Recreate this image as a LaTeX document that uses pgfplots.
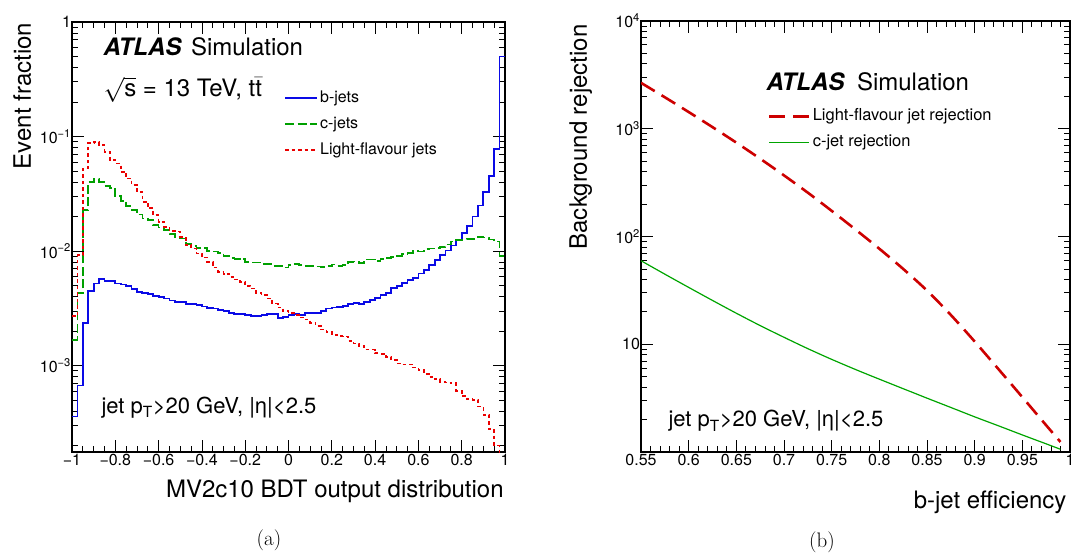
\documentclass[border=0pt]{standalone}
\usepackage{fontspec}
\usepackage{pgfplots}
\pgfplotsset{compat=1.18}
\usepackage{pgfplotstable}
\newfontfamily\hv{TeX Gyre Heros}
\definecolor{hblue}{RGB}{10,10,230}
\definecolor{hgreen}{RGB}{0,160,0}
\definecolor{hred}{RGB}{235,0,0}
\definecolor{rred}{RGB}{205,0,0}
\definecolor{rgreen}{RGB}{0,165,0}

\pgfplotstableread{
x b c l
-1.000 3.6e-4 1.67e-3 2.7e-3
-0.975 6.7e-4 4.3e-3 9.2e-3
-0.950 2.35e-3 2.28e-2 5.27e-2
-0.925 4.5e-3 4.03e-2 8.83e-2
-0.900 5.2e-3 4.23e-2 9.01e-2
-0.875 5.66e-3 4.03e-2 8.43e-2
-0.850 5.5e-3 3.70e-2 7.37e-2
-0.825 5.5e-3 3.57e-2 6.23e-2
-0.800 5.2e-3 3.02e-2 5.83e-2
-0.775 5.1e-3 2.75e-2 4.93e-2
-0.750 4.98e-3 2.47e-2 4.31e-2
-0.725 4.66e-3 2.28e-2 3.77e-2
-0.700 4.41e-3 2.09e-2 3.29e-2
-0.675 4.32e-3 1.93e-2 2.70e-2
-0.650 4.21e-3 1.87e-2 2.36e-2
-0.625 4.07e-3 1.69e-2 2.06e-2
-0.600 3.99e-3 1.61e-2 1.80e-2
-0.575 3.86e-3 1.52e-2 1.63e-2
-0.550 3.7e-3 1.41e-2 1.50e-2
-0.525 3.61e-3 1.33e-2 1.48e-2
-0.500 3.6e-3 1.29e-2 1.33e-2
-0.475 3.44e-3 1.15e-2 1.13e-2
-0.450 3.44e-3 1.11e-2 1.05e-2
-0.425 3.38e-3 1.06e-2 9.5e-3
-0.400 3.28e-3 1.07e-2 8.8e-3
-0.375 3.18e-3 1.0e-2 8.0e-3
-0.350 3.15e-3 9.9e-3 7.2e-3
-0.325 3.05e-3 9.66e-3 6.6e-3
-0.300 2.99e-3 9.04e-3 6.3e-3
-0.275 2.9e-3 8.74e-3 5.97e-3
-0.250 2.82e-3 8.57e-3 5.66e-3
-0.225 2.8e-3 8.57e-3 5.4e-3
-0.200 2.76e-3 8.07e-3 4.94e-3
-0.175 2.72e-3 7.96e-3 4.72e-3
-0.150 2.71e-3 7.96e-3 4.33e-3
-0.125 2.76e-3 7.69e-3 4.13e-3
-0.100 2.80e-3 7.69e-3 3.86e-3
-0.075 2.83e-3 7.44e-3 3.49e-3
-0.050 2.62e-3 7.44e-3 3.22e-3
-0.025 2.67e-3 7.2e-3 3.01e-3
0.000 2.76e-3 7.55e-3 2.86e-3
0.025 2.8e-3 7.69e-3 2.76e-3
0.050 2.76e-3 7.55e-3 2.63e-3
0.075 2.86e-3 7.44e-3 2.53e-3
0.100 2.89e-3 7.44e-3 2.37e-3
0.125 2.89e-3 7.35e-3 2.21e-3
0.150 2.99e-3 7.29e-3 2.07e-3
0.175 3.15e-3 7.44e-3 1.97e-3
0.200 3.22e-3 7.65e-3 1.85e-3
0.225 3.27e-3 7.44e-3 1.81e-3
0.250 3.30e-3 7.55e-3 1.80e-3
0.275 3.47e-3 8.07e-3 1.65e-3
0.300 3.50e-3 8.1e-3 1.56e-3
0.325 3.44e-3 7.9e-3 1.49e-3
0.350 3.61e-3 8.46e-3 1.38e-3
0.375 3.73e-3 8.46e-3 1.38e-3
0.400 3.91e-3 8.18e-3 1.28e-3
0.425 4.13e-3 8.5e-3 1.27e-3
0.450 4.33e-3 8.74e-3 1.19e-3
0.475 4.72e-3 8.93e-3 1.12e-3
0.500 4.94e-3 9.1e-3 1.04e-3
0.525 5.29e-3 9.41e-3 1.02e-3
0.550 5.58e-3 9.66e-3 1.02e-3
0.575 5.85e-3 1.0e-2 9.6e-4
0.600 6.38e-3 9.9e-3 9.1e-4
0.625 6.82e-3 1.035e-2 8.5e-4
0.650 7.55e-3 1.055e-2 8.0e-4
0.675 8.34e-3 1.07e-2 7.6e-4
0.700 9.23e-3 1.09e-2 7.2e-4
0.725 1.01e-2 1.14e-2 7.1e-4
0.750 1.12e-2 1.21e-2 7.0e-4
0.775 1.26e-2 1.25e-2 6.0e-4
0.800 1.43e-2 1.26e-2 5.4e-4
0.825 1.66e-2 1.28e-2 5.1e-4
0.850 2.0e-2 1.28e-2 5.0e-4
0.875 2.5e-2 1.33e-2 4.4e-4
0.900 3.3e-2 1.31e-2 3.7e-4
0.925 4.5e-2 1.26e-2 2.8e-4
0.950 7.8e-2 1.21e-2 2.0e-4
0.975 0.5 9.04e-3 1.5e-4
1.000 0.5 9.04e-3 1.5e-4
}\histtab

\pgfplotstableread{
x l c
0.55 2667 59.6
0.575 1959 44.7
0.60 1429 33.7
0.625 1035 25.5
0.65 743 19.4
0.675 527 14.9
0.70 369 11.6
0.725 255 9.10
0.75 173 7.24
0.775 116 5.83
0.80 77 4.74
0.825 50 3.87
0.85 31.5 3.16
0.875 18.7 2.59
0.90 10.6 2.12
0.925 5.87 1.75
0.95 3.23 1.44
0.975 1.77 1.19
0.99 1.24 1.06
}\rejtab

\pgfplotsset{
  atlasax/.style={
    scale only axis,
    anchor=south west,
    tick align=inside,
    major tick length=12pt,
    minor tick length=6pt,
    every tick/.style={black, line width=0.8pt},
    axis line style={line width=1.1pt},
    tick label style={font=\hv\fontsize{16}{18}\selectfont},
    xticklabel style={yshift=1.5pt},
    yticklabel style={xshift=2.5pt},
    label style={font=\hv\fontsize{24}{26}\selectfont},
    legend cell align=left,
  },
}

\begin{document}
\begin{tikzpicture}
\useasboundingbox (0pt,0pt) rectangle (1071pt,556pt);

% ---------------- (a) ----------------
\begin{axis}[ymode=log, atlasax,
  at={(72pt,104pt)}, width=433pt, height=430pt,
  xmin=-1, xmax=1, ymin=1.76e-4, ymax=1,
  xtick={-1,-0.8,-0.6,-0.4,-0.2,0,0.2,0.4,0.6,0.8,1},
  xticklabels={−1,−0.8,−0.6,−0.4,−0.2,0,0.2,0.4,0.6,0.8,1},
  minor x tick num=3,
  ytick={0.001,0.01,0.1,1},
  yticklabels={10\textsuperscript{−3},10\textsuperscript{−2},10\textsuperscript{−1},1},
  minor ytick={2e-4,3e-4,4e-4,5e-4,6e-4,7e-4,8e-4,9e-4,2e-3,3e-3,4e-3,5e-3,6e-3,7e-3,8e-3,9e-3,0.02,0.03,0.04,0.05,0.06,0.07,0.08,0.09,0.2,0.3,0.4,0.5,0.6,0.7,0.8,0.9},
  xlabel={MV2c10 BDT output distribution},
  ylabel={Event fraction},
  x label style={at={(axis description cs:1.005,-0.1047)}, anchor=base east},
  y label style={at={(axis description cs:-0.095,1.006)}, anchor=base east},
  legend style={at={(rel axis cs:0.483,0.851)}, anchor=north west, draw=none, fill=none,
    font=\hv\fontsize{16}{18}\selectfont, row sep=6pt,
    nodes={inner sep=2pt, text height=12pt, text depth=4pt}},
  legend image code/.code={\draw[#1] (0pt,0pt) -- (32pt,0pt);},
]
\addplot[const plot, hblue, line width=1.8pt] table[x=x, y=b] {\histtab};
\addlegendentry{b-jets}
\addplot[const plot, hgreen, line width=1.7pt, dash pattern=on 9pt off 3.5pt] table[x=x, y=c] {\histtab};
\addlegendentry{c-jets}
\addplot[const plot, hred, line width=1.7pt, dash pattern=on 3.5pt off 3pt] table[x=x, y=l] {\histtab};
\addlegendentry{Light-flavour jets}
\node[anchor=base west, font=\hv\fontsize{24}{26}\selectfont] at (rel axis cs:0.0647,0.923) {{\bfseries\itshape ATLAS}\hspace{3pt} Simulation};
\node[anchor=base west, font=\hv\fontsize{24}{26}\selectfont] at (rel axis cs:0.0647,0.8256) {$\sqrt{\mbox{s}}$ = 13 TeV, t$\bar{\mbox{t}}$};
\node[anchor=base west, font=\hv\fontsize{22}{24}\selectfont] at (rel axis cs:0.060,0.0907) {jet p\textsubscript{T}>20 GeV, |η|<2.5};
\end{axis}

% ---------------- (b) ----------------
\begin{axis}[ymode=log, atlasax,
  at={(641pt,104pt)}, width=429pt, height=431pt,
  xmin=0.55, xmax=1, ymin=1, ymax=10000,
  xtick={0.55,0.6,0.65,0.7,0.75,0.8,0.85,0.9,0.95,1},
  xticklabels={0.55,0.6,0.65,0.7,0.75,0.8,0.85,0.9,0.95,1},
  minor x tick num=4,
  ytick={10,100,1000,10000},
  yticklabels={10,10\textsuperscript{2},10\textsuperscript{3},10\textsuperscript{4}},
  minor ytick={2,3,4,5,6,7,8,9,20,30,40,50,60,70,80,90,200,300,400,500,600,700,800,900,2000,3000,4000,5000,6000,7000,8000,9000},
  xlabel={b-jet efficiency},
  ylabel={Background rejection},
  x label style={at={(axis description cs:1.0,-0.13)}, anchor=base east},
  y label style={at={(axis description cs:-0.126,1)}, anchor=base east},
  legend style={at={(rel axis cs:0.289,0.807)}, anchor=north west, draw=none, fill=none,
    font=\hv\fontsize{16.5}{18}\selectfont, row sep=6pt,
    nodes={inner sep=2pt, text height=12pt, text depth=4pt}},
  legend image code/.code={\draw[#1] (0pt,0pt) -- (40pt,0pt);},
]
\addplot[rred, line width=2.6pt, dash pattern=on 16pt off 8pt, smooth] table[x=x, y=l] {\rejtab};
\addlegendentry{Light-flavour jet rejection}
\addplot[rgreen, line width=1.2pt, smooth] table[x=x, y=c] {\rejtab};
\addlegendentry{c-jet rejection}
\node[anchor=base west, font=\hv\fontsize{24}{26}\selectfont] at (rel axis cs:0.2844,0.8383) {{\bfseries\itshape ATLAS}\hspace{6pt} Simulation};
\node[anchor=base west, font=\hv\fontsize{22}{24}\selectfont] at (rel axis cs:0.0559,0.058) {jet p\textsubscript{T}>20 GeV, |η|<2.5};
\end{axis}

\node[anchor=base, font=\fontsize{21}{23}\selectfont] at (269pt,10pt) {(a)};
\node[anchor=base, font=\fontsize{21}{23}\selectfont] at (822pt,8pt) {(b)};
\end{tikzpicture}
\end{document}
